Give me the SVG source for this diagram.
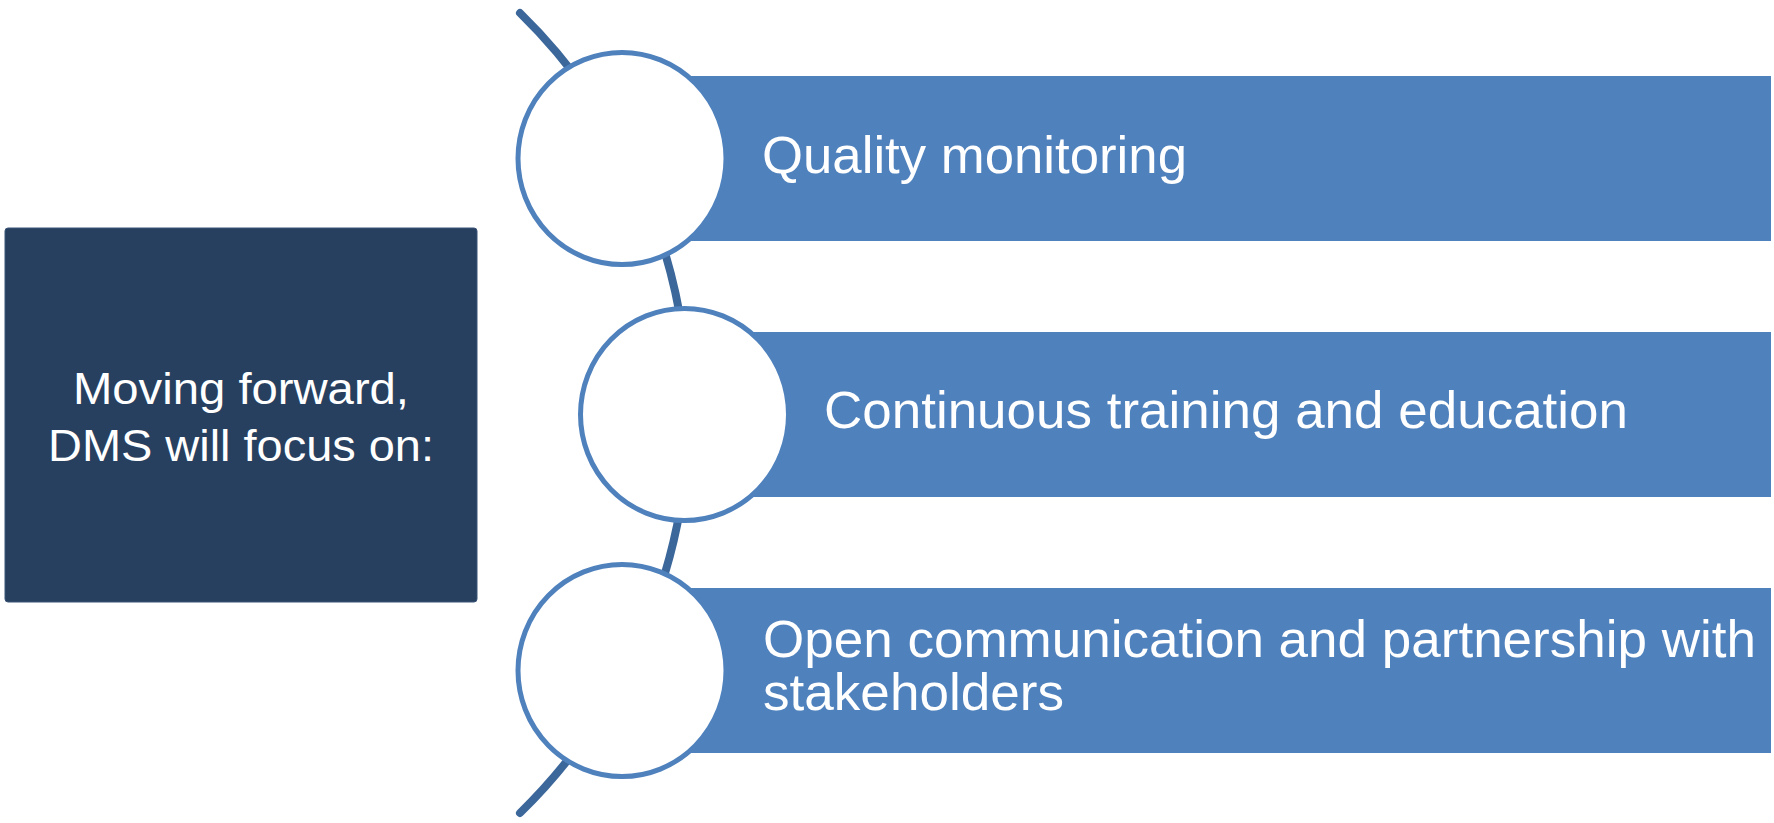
<svg xmlns="http://www.w3.org/2000/svg" width="1774" height="823" viewBox="0 0 1774 823">
  <style>
    .bar { fill: #4F81BD; }
    .ring { fill: #FFFFFF; stroke: #4F81BD; stroke-width: 5; }
    .lbl { font-family: "Liberation Sans", Arial, sans-serif; font-size: 52px; fill: #FFFFFF; }
    .head { font-family: "Liberation Sans", Arial, sans-serif; font-size: 45px; fill: #FFFFFF; text-anchor: middle; }
    .conn { fill: none; stroke: #3C679A; stroke-width: 8; stroke-linecap: round; }
  </style>
  <rect width="1774" height="823" fill="#FFFFFF"/>
  <g id="connectors">
    <path class="conn" d="M 520 13 A 559.4 559.4 0 0 1 520 813"/>
  </g>
  <g id="main">
    <rect x="5" y="228" width="472" height="374" rx="3" fill="#274060" stroke="#3A5478" stroke-width="1"/>
    <text class="head" x="241" y="404" textLength="336" lengthAdjust="spacingAndGlyphs">Moving forward,</text>
    <text class="head" x="241" y="461" textLength="386" lengthAdjust="spacingAndGlyphs">DMS will focus on:</text>
  </g>
  <g id="item1">
    <rect class="bar" x="622" y="76" width="1149" height="165"/>
    <ellipse class="ring" cx="622" cy="158.5" rx="104" ry="106"/>
    <text class="lbl" x="762" y="173" textLength="425" lengthAdjust="spacingAndGlyphs">Quality monitoring</text>
  </g>
  <g id="item2">
    <rect class="bar" x="684" y="332" width="1087" height="165"/>
    <ellipse class="ring" cx="684.5" cy="414.5" rx="104" ry="106"/>
    <text class="lbl" x="824" y="428" textLength="804" lengthAdjust="spacingAndGlyphs">Continuous training and education</text>
  </g>
  <g id="item3">
    <rect class="bar" x="622" y="588" width="1149" height="165"/>
    <ellipse class="ring" cx="622" cy="670.5" rx="104" ry="106"/>
    <text class="lbl" x="763" y="657" textLength="993" lengthAdjust="spacingAndGlyphs">Open communication and partnership with</text>
    <text class="lbl" x="763" y="710" textLength="301" lengthAdjust="spacingAndGlyphs">stakeholders</text>
  </g>
</svg>
